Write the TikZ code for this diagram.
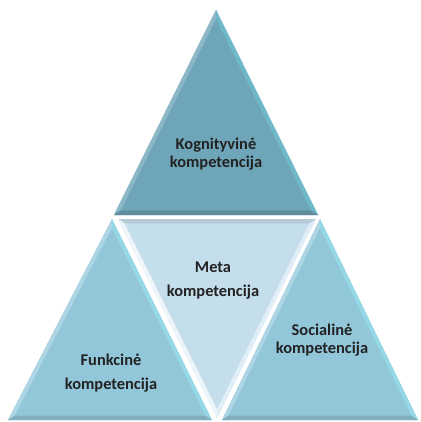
\documentclass[tikz,border=0pt]{standalone}
\usepackage{fontspec}
\setmainfont{Carlito}
\usetikzlibrary{calc}

\definecolor{topblue}{HTML}{6FA5B8}
\definecolor{lowblue}{HTML}{92C7DA}
\definecolor{metablue}{HTML}{C4DEEC}
\definecolor{inkgray}{HTML}{222222}

\tikzset{
  comptext/.style={font=\bfseries\fontsize{8.2}{9}\selectfont, text=inkgray, align=center},
}

\begin{document}
\begin{tikzpicture}[x=0.5pt,y=-0.5pt]
	\useasboundingbox (0,0) rectangle (420,422);

	% corners of the four triangles
	\coordinate (t1) at (216,10);  \coordinate (t2) at (114,215); \coordinate (t3) at (318,215);
	\coordinate (f1) at (112,219); \coordinate (f2) at (8,420);   \coordinate (f3) at (212,420);
	\coordinate (s1) at (320,219); \coordinate (s2) at (222,420); \coordinate (s3) at (418,420);
	\coordinate (m1) at (118,219); \coordinate (m2) at (316,219); \coordinate (m3) at (217,418);

	\coordinate (tc) at ($1/3*(t1)+1/3*(t2)+1/3*(t3)$);
	\coordinate (fc) at ($1/3*(f1)+1/3*(f2)+1/3*(f3)$);
	\coordinate (sc) at ($1/3*(s1)+1/3*(s2)+1/3*(s3)$);
	\coordinate (mc) at ($1/3*(m1)+1/3*(m2)+1/3*(m3)$);

	% inner corners of the bevels
	\foreach \t in {t,f,s,m}
	  \foreach \i in {1,2,3}
	    \coordinate (\t\i i) at ($(\t\i)!0.065!(\t c)$);

	% top: cognitive
	\fill[topblue] (t1) -- (t2) -- (t3) -- cycle;
	\fill[topblue!80!white] (t1) -- (t2) -- (t2i) -- (t1i) -- cycle;
	\fill[topblue!85!cyan!90!white] (t1) -- (t3) -- (t3i) -- (t1i) -- cycle;
	\fill[topblue!85!black] (t2) -- (t3) -- (t3i) -- (t2i) -- cycle;

	% bottom left: functional
	\fill[lowblue] (f1) -- (f2) -- (f3) -- cycle;
	\fill[lowblue!75!white] (f1) -- (f2) -- (f2i) -- (f1i) -- cycle;
	\fill[lowblue!85!cyan!80!white] (f1) -- (f3) -- (f3i) -- (f1i) -- cycle;
	\fill[lowblue!88!black] (f2) -- (f3) -- (f3i) -- (f2i) -- cycle;

	% bottom right: social
	\fill[lowblue] (s1) -- (s2) -- (s3) -- cycle;
	\fill[lowblue!75!white] (s1) -- (s2) -- (s2i) -- (s1i) -- cycle;
	\fill[lowblue!85!cyan!80!white] (s1) -- (s3) -- (s3i) -- (s1i) -- cycle;
	\fill[lowblue!88!black] (s2) -- (s3) -- (s3i) -- (s2i) -- cycle;

	% centre: meta
	\fill[metablue] (m1) -- (m2) -- (m3) -- cycle;
	\fill[metablue!80!gray] (m1) -- (m2) -- (m2i) -- (m1i) -- cycle;
	\fill[metablue!30!white] (m1) -- (m3) -- (m3i) -- (m1i) -- cycle;
	\fill[metablue!50!white] (m2) -- (m3) -- (m3i) -- (m2i) -- cycle;

	\node[comptext] (kogn) at (216,154) {Kognityvinė\\kompetencija};
	\node[comptext] (meta) at (213,281) {Meta\\[3pt]kompetencija};
	\node[comptext] (funk) at (111,373) {Funkcinė\\[3pt]kompetencija};
	\node[comptext] (soc) at (322,340) {Socialinė\\kompetencija};

\end{tikzpicture}
\end{document}
